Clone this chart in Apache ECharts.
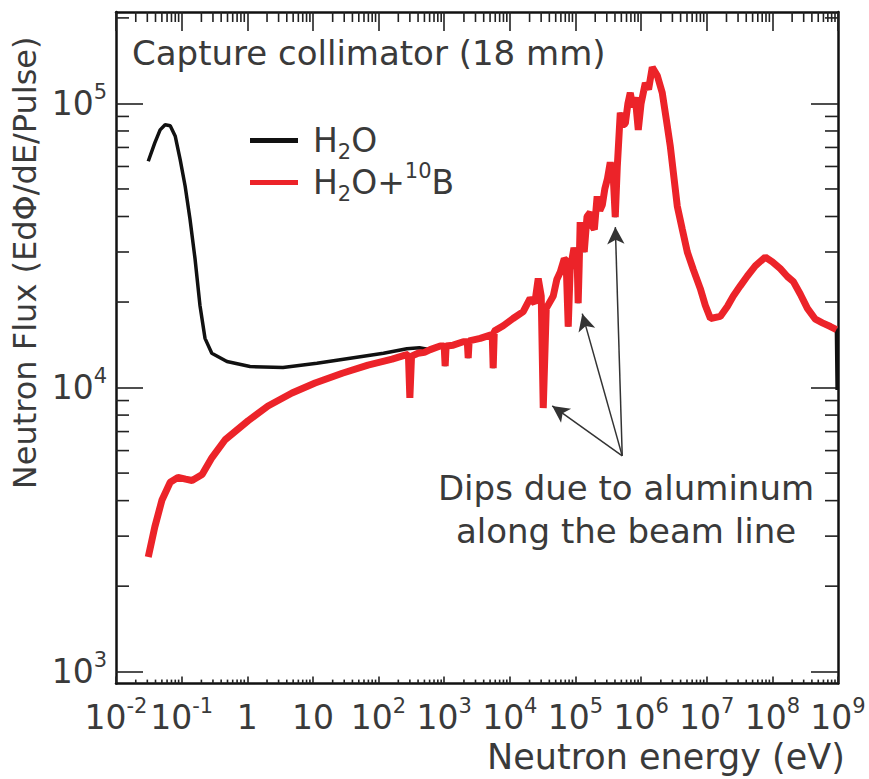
<!DOCTYPE html>
<html><head><meta charset="utf-8">
<script src="https://cdn.jsdelivr.net/npm/echarts@6/dist/echarts.min.js"></script>
<style>html,body{margin:0;padding:0;background:#fff}#c{width:869px;height:779px}</style>
</head><body><div id="c"></div>
<script>
// ---- data ----
const h2oLowE = [0.031, 0.039, 0.047, 0.056, 0.067, 0.08, 0.095, 0.113, 0.134, 0.16, 0.19, 0.227, 0.288, 0.49, 1.1, 3.5, 11.5, 37, 119, 270, 420];
const h2oLowF = [62600, 72600, 80700, 84100, 83400, 76600, 63400, 51200, 39200, 28400, 19500, 14900, 13200, 12350, 11860, 11770, 12180, 12680, 13200, 13700, 13800];
const boronLowE = [0.031, 0.039, 0.05, 0.067, 0.088, 0.115, 0.144, 0.205, 0.29, 0.46, 1.03, 2.07, 4.8, 10.8, 28, 69, 161, 254, 285, 300, 318, 400, 500];
const boronLowF = [2535, 3230, 4010, 4640, 4830, 4760, 4710, 4940, 5670, 6550, 7640, 8610, 9570, 10370, 11230, 11990, 12590, 13000, 13100, 9200, 12900, 13200, 13300];
const sharedE = [612, 869, 1000, 1035, 1070, 1371, 1950, 2250, 2323, 2400, 3540, 5020, 5400, 5580, 5800, 7940, 11200, 16000, 20400, 24000, 27100, 30100, 32300, 35900, 45900, 52000, 58700, 67500, 72000, 77600, 83000, 95000, 106000, 110000, 114000, 118000, 127000, 136000, 150000, 168000, 180000, 194000, 214000, 235000, 257000, 280000, 306000, 339000, 377000, 404000, 434000, 482000, 530000, 575000, 630000, 684000, 750000, 815000, 906000, 1.0e6, 1.16e6, 1.3e6, 1.48e6, 1.77e6, 2.1e6, 2.42e6, 2.79e6, 3.56e6, 4.25e6, 5.06e6, 6.25e6, 7.98e6, 9.5e6, 1.14e7, 1.61e7, 2.06e7, 2.54e7, 3.25e7, 4.16e7, 5.5e7, 7.8e7, 1.0e8, 1.32e8, 1.69e8, 2.09e8, 2.67e8, 3.42e8, 4.52e8, 5.78e8, 7.66e8, 9.46e8];
const sharedF = [13600, 14000, 14000, 11900, 14000, 14100, 14500, 14500, 12700, 14600, 14900, 15300, 15300, 11700, 15800, 16500, 17500, 18500, 20600, 19800, 24200, 21000, 8470, 19000, 21000, 24000, 25500, 28400, 28000, 16400, 26000, 31000, 28400, 19800, 27000, 38200, 33000, 30000, 40000, 41400, 37000, 36000, 47100, 42000, 44000, 50000, 54100, 62000, 55000, 39800, 60000, 92700, 84000, 85000, 100000, 109000, 97000, 105000, 80700, 100000, 118000, 112000, 134000, 125000, 109000, 88000, 70500, 43500, 36000, 30000, 26000, 22300, 19500, 17500, 17800, 19300, 21000, 22800, 24700, 26800, 28800, 27700, 26200, 24600, 23600, 21300, 19000, 17400, 16900, 16400, 16000];
const h2oEndE = [9.6e8, 9.7e8];
const h2oEndF = [16000, 9800];
const xDecades = [0.01, 0.1, 1, 10, 100, 1e3, 1e4, 1e5, 1e6, 1e7, 1e8, 1e9];
const yDecades = [100, 1e3, 1e4, 1e5];
const arrowFrom = [5.16e5, 5750];
const arrowTips = [[4.43e4, 8620], [1.27e5, 18200], [4.05e5, 36700]];

const X_MIN = 0.01, X_MAX = 1e9, Y_MIN = 908, Y_MAX = 2.098e5;
const FONT = 'DejaVu Sans';
const TXT = '#3a3a3a';

const zip = (a, b) => a.map((v, i) => [v, b[i]]);
const h2oData = zip(h2oLowE, h2oLowF).concat(zip(sharedE, sharedF), zip(h2oEndE, h2oEndF));
const boronData = zip(boronLowE, boronLowF).concat(zip(sharedE, sharedF));

function minorOf(decs, lo, hi) {
  const out = [];
  decs.forEach(d => { for (let m = 2; m <= 9; m++) { const v = d * m; if (v > lo && v < hi) out.push(v); } });
  return out;
}
const xMinor = minorOf(xDecades, X_MIN, X_MAX);
const yMinor = minorOf(yDecades, Y_MIN, Y_MAX);
const yMajor = yDecades.filter(v => v >= Y_MIN && v <= Y_MAX);

const rich = {
  t: { fontFamily: FONT, fontSize: 33, color: TXT, lineHeight: 44 },
  s: { fontFamily: FONT, fontSize: 21, color: TXT, lineHeight: 18, verticalAlign: 'top' },
  sub: { fontFamily: FONT, fontSize: 21, color: TXT, lineHeight: 18, verticalAlign: 'bottom' },
  g: { width: 10 }
};
function xLabel(v) {
  const k = Math.round(Math.log10(v));
  if (k === 0) return '{t|1}';
  if (k === 1) return '{t|10}';
  return '{t|10}{s|' + (k < 0 ? '\u2010' + (-k) : k) + '}';
}
function yLabel(v) {
  const k = Math.round(Math.log10(v));
  return '{t|10}{s|' + k + '}';
}

const lineAx = { color: '#111', width: 2.5 };
const tickSt = { color: '#222', width: 1.6 };
function xAx(pos, len) {
  return {
    type: 'log', position: pos, min: X_MIN, max: X_MAX,
    axisLine: { show: true, onZero: false, lineStyle: lineAx },
    axisTick: { show: true, inside: true, length: len, customValues: xDecades, lineStyle: tickSt },
    axisLabel: { show: false }, splitLine: { show: false }, minorTick: { show: false }
  };
}
function yAx(pos, len) {
  return {
    type: 'log', position: pos, min: Y_MIN, max: Y_MAX,
    axisLine: { show: true, onZero: false, lineStyle: lineAx },
    axisTick: { show: true, inside: true, length: len, customValues: yMajor, lineStyle: tickSt },
    axisLabel: { show: false }, splitLine: { show: false }, minorTick: { show: false }
  };
}

const xAxes = [xAx('bottom', 7), xAx('top', 19)];
Object.assign(xAxes[0], {
  axisLabel: { show: true, customValues: xDecades, margin: 12, formatter: xLabel, rich: rich, showMinLabel: true, showMaxLabel: true, hideOverlap: false },
  name: 'Neutron energy (eV)', nameLocation: 'middle', nameGap: 55,
  nameTextStyle: { fontFamily: FONT, fontSize: 35, color: TXT, padding: [0, 0, 0, 378] }
});
const yAxes = [yAx('left', 27), yAx('right', 27)];
Object.assign(yAxes[0], {
  axisLabel: { show: true, customValues: yMajor, margin: 9, formatter: yLabel, rich: rich, showMinLabel: true, showMaxLabel: true },
  name: 'Neutron Flux (EdΦ/dE/Pulse)', nameLocation: 'middle', nameGap: 70,
  nameTextStyle: { fontFamily: FONT, fontSize: 32, color: TXT, padding: [0, 0, 0, 170] }
});

// minor tick marks on the four frame sides, placed through the axes' own log scales
function minorTickSeries(values, side, len) {
  return {
    type: 'custom', name: 'minor-' + side, xAxisIndex: 0, yAxisIndex: 0, silent: true, clip: false, z: 5,
    data: values.map(v => [v]),
    renderItem: function (params, api) {
      const v = api.value(0);
      const bl = api.coord([X_MIN, Y_MIN]);
      const tr = api.coord([X_MAX, Y_MAX]);
      let s;
      if (side === 'bottom') { const x = api.coord([v, Y_MIN])[0]; s = { x1: x, y1: bl[1], x2: x, y2: bl[1] - len }; }
      else if (side === 'top') { const x = api.coord([v, Y_MIN])[0]; s = { x1: x, y1: tr[1], x2: x, y2: tr[1] + len }; }
      else if (side === 'left') { const y = api.coord([X_MAX, v])[1]; s = { x1: bl[0], y1: y, x2: bl[0] + len, y2: y }; }
      else { const y = api.coord([X_MAX, v])[1]; s = { x1: tr[0], y1: y, x2: tr[0] - len, y2: y }; }
      return { type: 'line', shape: s, style: { stroke: '#222', lineWidth: 1.6 } };
    }
  };
}

const chart = echarts.init(document.getElementById('c'), null, { renderer: 'svg' });
chart.setOption({
  animation: false,
  backgroundColor: '#fff',
  grid: { left: 116, right: 31, top: 12, bottom: 92 },
  title: {
    text: 'Capture collimator (18 mm)', left: 132, top: 36, padding: 0,
    textStyle: { fontFamily: FONT, fontSize: 34, fontWeight: 'normal', color: TXT }
  },
  legend: {
    left: 250, top: 124, orient: 'vertical', itemWidth: 48, itemHeight: 5, itemGap: -2, icon: 'rect', padding: 0,
    data: ['H2O', 'H2O+10B'],
    formatter: n => n === 'H2O' ? '{g| }{t|H}{sub|2}{t|O}' : '{g| }{t|H}{sub|2}{t|O+}{s|10}{t|B}',
    textStyle: { rich: rich }
  },
  xAxis: xAxes,
  yAxis: yAxes,
  series: [
    {
      name: 'H2O', type: 'line', xAxisIndex: 0, yAxisIndex: 0, data: h2oData, symbol: 'none',
      lineStyle: { color: '#111', width: 3.5 }, itemStyle: { color: '#111' }, z: 2
    },
    {
      name: 'H2O+10B', type: 'line', xAxisIndex: 0, yAxisIndex: 0, data: boronData, symbol: 'none',
      lineStyle: { color: '#ec2329', width: 7 }, itemStyle: { color: '#ec2329' }, z: 3,
      markLine: {
        silent: true, animation: false, symbol: ['none', 'arrow'], symbolSize: [13, 17],
        label: { show: false }, emphasis: { disabled: true },
        lineStyle: { color: '#333', width: 1.5, type: 'solid' },
        data: arrowTips.map(t => [{ coord: arrowFrom }, { coord: t }])
      }
    },
    minorTickSeries(xMinor, 'bottom', 4),
    minorTickSeries(xMinor, 'top', 10),
    minorTickSeries(yMinor, 'left', 13),
    minorTickSeries(yMinor, 'right', 13)
  ],
  graphic: [{
    type: 'text', x: 626, y: 509, silent: true,
    style: {
      text: 'Dips due to aluminum\nalong the beam line', fontFamily: FONT, fontSize: 34,
      fill: TXT, align: 'center', verticalAlign: 'middle', lineHeight: 43
    }
  }]
});
</script></body></html>
